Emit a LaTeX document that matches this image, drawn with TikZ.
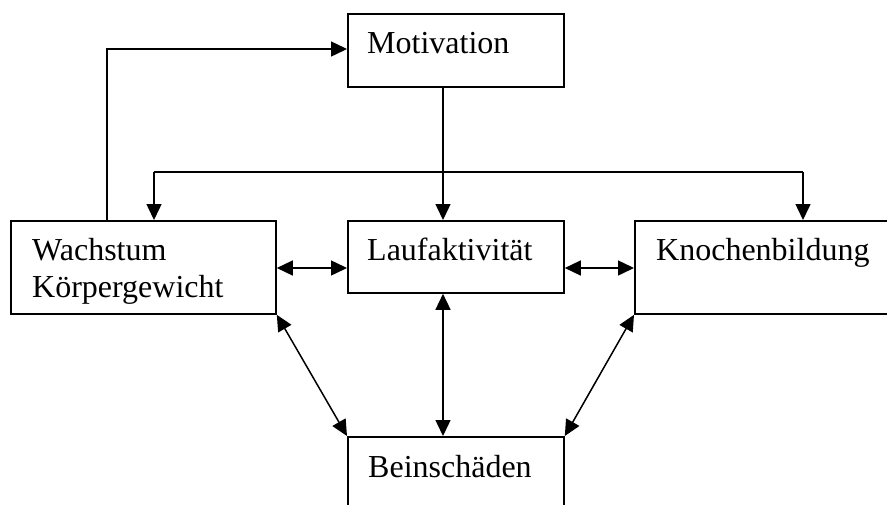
\documentclass[tikz,border=0pt]{standalone}
\usepackage{fontspec}
\setmainfont{Liberation Serif}
\usetikzlibrary{arrows.meta}
\begin{document}
\begin{tikzpicture}[x=1pt,y=-1pt,
  box/.style={draw, line width=1.8pt, rectangle, inner sep=0pt, anchor=north west},
  lbl/.style={anchor=base west, inner sep=0pt, font=\fontsize{32}{37}\selectfont, align=left},
  conn/.style={line width=1.5pt, -{Triangle[length=16pt,width=15pt]}},
  bconn/.style={line width=1.5pt, {Triangle[length=16pt,width=15pt]}-{Triangle[length=16pt,width=15pt]}}]
\clip (0,0) rectangle (887,504);
\fill[white] (0,0) rectangle (887,504);
% boxes
\node[box, minimum width=216pt, minimum height=73pt] (mot) at (347,13) {};
\node[box, minimum width=216pt, minimum height=72pt] (lauf) at (347,220) {};
\node[box, minimum width=265pt, minimum height=93pt] (wach) at (10,220) {};
\node[box, minimum width=270pt, minimum height=93pt] (knoch) at (634,220) {};
\node[box, minimum width=216pt, minimum height=90pt] (bein) at (347,436) {};
% labels
\node[lbl] (tmot) at (367,53) {Motivation};
\node[lbl] (tlauf) at (367,260) {Laufaktivität};
\node[lbl] (twach) at (32,297) {Wachstum\\Körpergewicht};
\node[lbl] (tknoch) at (656,260) {Knochenbildung};
\node[lbl] (tbein) at (368,477) {Beinschäden};
% coordinates
\coordinate (wtop) at (107,220);
\coordinate (wturn) at (107,49);
\coordinate (mtop) at (443,86);
\coordinate (jl) at (154,172);
\coordinate (jr) at (803,172);
% connectors
\draw[conn] (wtop) -- (wturn) -- (mot.west |- wturn);
\draw[conn] (mtop) -- (mtop |- lauf.north);
\draw[line width=1.5pt] (jl) -- (jr);
\draw[conn] (jl) -- (jl |- wach.north);
\draw[conn] (jr) -- (jr |- knoch.north);
\draw[bconn] (wach.east |- 0,268) -- (lauf.west |- 0,268);
\draw[bconn] (lauf.east |- 0,268) -- (knoch.west |- 0,268);
\draw[bconn] (mtop |- lauf.south) -- (mtop |- bein.north);
\draw[bconn] (wach.south east) -- (bein.north west);
\draw[bconn] (knoch.south west) -- (bein.north east);
\end{tikzpicture}
\end{document}
